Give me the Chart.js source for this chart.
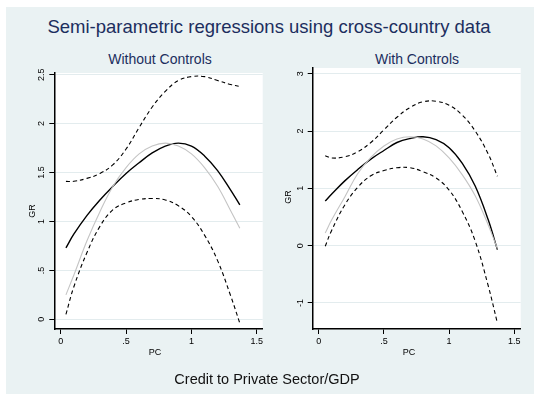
<!DOCTYPE html>
<html>
<head>
<meta charset="utf-8">
<script src="https://cdn.jsdelivr.net/npm/chart.js@4/dist/chart.umd.min.js"></script>
<style>
  html, body { margin: 0; padding: 0; background: #ffffff; }
  body { width: 534px; height: 394px; position: relative; overflow: hidden;
         font-family: "Liberation Sans", Arial, sans-serif; }
  #bg { position: absolute; left: 6px; top: 7px; width: 528px; height: 387px; background: #eaf2f3; }
  .txt { position: absolute; white-space: nowrap; line-height: 1; }
  .center { transform: translate(-50%, -50%); }
  .vert { transform: translate(-50%, -50%) rotate(-90deg); }
  canvas { position: absolute; }
</style>
</head>
<body>
<div id="bg"></div>

<div class="txt center" style="left:269px; top:27px; font-size:18.5px; color:#1c2e5e;">Semi-parametric regressions using cross-country data</div>
<div class="txt center" style="left:160px; top:59px; font-size:14px; color:#1c2e5e;">Without Controls</div>
<div class="txt center" style="left:417px; top:59px; font-size:14px; color:#1c2e5e;">With Controls</div>

<div style="position:absolute; left:6px; top:46px; width:262px; height:318px;"><canvas id="left" width="262" height="318"></canvas></div>
<div style="position:absolute; left:268px; top:46px; width:262px; height:318px;"><canvas id="right" width="262" height="318"></canvas></div>

<div class="txt vert" style="left:31.5px; top:211px; font-size:9px; color:#000;">GR</div>
<div class="txt vert" style="left:287.5px; top:197px; font-size:9px; color:#000;">GR</div>
<div class="txt center" style="left:155px; top:352px; font-size:9px; color:#000;">PC</div>
<div class="txt center" style="left:409px; top:352px; font-size:9px; color:#000;">PC</div>
<div class="txt center" style="left:267px; top:379px; font-size:14.5px; color:#111;">Credit to Private Sector/GDP</div>

<script>
// Without controls: PC grid, semi-parametric fit, quadratic fit, 95% band
const pcLeft    = [0.04, 0.1, 0.2, 0.3, 0.4, 0.5, 0.6, 0.7, 0.8, 0.9, 1.0, 1.1, 1.2, 1.3, 1.37];
const fitLeft   = [0.73, 0.87, 1.06, 1.22, 1.36, 1.49, 1.60, 1.70, 1.77, 1.80, 1.77, 1.67, 1.52, 1.32, 1.17];
const quadLeft  = [0.25, 0.45, 0.80, 1.10, 1.36, 1.55, 1.69, 1.77, 1.80, 1.77, 1.69, 1.55, 1.36, 1.11, 0.93];
const upperLeft = [1.41, 1.41, 1.44, 1.49, 1.58, 1.74, 1.96, 2.17, 2.33, 2.44, 2.48, 2.48, 2.44, 2.40, 2.38];
const lowerLeft = [0.05, 0.33, 0.68, 0.95, 1.12, 1.19, 1.225, 1.235, 1.22, 1.16, 1.05, 0.86, 0.60, 0.24, -0.04];

// With controls
const pcRight    = [0.05, 0.1, 0.2, 0.3, 0.4, 0.5, 0.6, 0.7, 0.8, 0.9, 1.0, 1.1, 1.2, 1.3, 1.37];
const fitRight   = [0.78, 0.90, 1.13, 1.33, 1.51, 1.66, 1.80, 1.87, 1.90, 1.85, 1.71, 1.44, 1.04, 0.45, -0.07];
const quadRight  = [0.22, 0.45, 0.85, 1.26, 1.54, 1.74, 1.86, 1.90, 1.86, 1.74, 1.53, 1.24, 0.87, 0.36, -0.05];
const upperRight = [1.57, 1.53, 1.55, 1.64, 1.80, 2.02, 2.24, 2.41, 2.51, 2.52, 2.45, 2.28, 2.00, 1.60, 1.21];
const lowerRight = [-0.01, 0.27, 0.71, 1.02, 1.22, 1.31, 1.36, 1.36, 1.29, 1.18, 0.97, 0.60, 0.08, -0.70, -1.35];

// Axis ticks
const xTicks      = [0, 0.5, 1, 1.5];
const yTicksLeft  = [0, 0.5, 1, 1.5, 2, 2.5];
const yTicksRight = [-1, 0, 1, 2, 3];

const FONT = "'Liberation Sans', Arial, sans-serif";
const GRID = '#e3ecee';

const fmt = v => String(v).replace(/^0\./, '.').replace(/^-0\./, '-.');
const pts = (xs, ys) => xs.map((x, i) => ({ x: x, y: ys[i] }));

const whitePlot = {
  id: 'whitePlot',
  beforeDraw(chart) {
    const a = chart.chartArea, ctx = chart.ctx;
    ctx.save();
    ctx.fillStyle = '#ffffff';
    ctx.fillRect(a.left, a.top, a.right - a.left, a.bottom - a.top);
    ctx.restore();
  }
};

function series(xs, ys, style) {
  return Object.assign({
    data: pts(xs, ys),
    pointRadius: 0,
    fill: false,
    tension: 0.4,
    borderColor: '#000',
    borderWidth: 1
  }, style);
}

function panel(id, xs, fit, quad, up, lo, yTicks, cfg) {
  new Chart(document.getElementById(id), {
    type: 'line',
    data: {
      datasets: [
        series(xs, up,   { borderDash: [4, 3], borderWidth: 1.1 }),
        series(xs, lo,   { borderDash: [4, 3], borderWidth: 1.1 }),
        series(xs, quad, { borderColor: '#c4c4c4', borderWidth: 1.1 }),
        series(xs, fit,  { borderColor: '#000', borderWidth: 1.4 })
      ]
    },
    options: {
      responsive: false,
      animation: false,
      events: [],
      layout: { padding: { left: 0, right: cfg.padRight, top: cfg.padTop, bottom: 0 } },
      plugins: { legend: { display: false }, tooltip: { enabled: false }, title: { display: false } },
      scales: {
        x: {
          type: 'linear',
          min: cfg.xMin, max: cfg.xMax,
          afterBuildTicks: s => { s.ticks = xTicks.map(v => ({ value: v })); },
          afterFit: s => { s.height = 35; },
          border: { display: true, color: '#000', width: 1.5 },
          grid: { drawOnChartArea: false, drawTicks: true, tickLength: 5, tickColor: '#000', tickWidth: 1 },
          ticks: { padding: 2.3, color: '#000', font: { family: FONT, size: 9 },
                   maxRotation: 0, autoSkip: false, callback: v => fmt(v) }
        },
        y: {
          type: 'linear',
          min: cfg.yMin, max: cfg.yMax,
          afterBuildTicks: s => { s.ticks = yTicks.map(v => ({ value: v })); },
          afterFit: s => { s.width = cfg.yWidth; },
          border: { display: true, color: '#000', width: 1.5 },
          grid: { color: GRID, lineWidth: 1, drawTicks: true, tickLength: 5, tickColor: '#000', tickWidth: 1 },
          ticks: { padding: cfg.yPad, color: '#000', font: { family: FONT, size: 9 },
                   minRotation: 90, maxRotation: 90, crossAlign: 'center',
                   autoSkip: false, callback: v => fmt(v) }
        }
      }
    },
    plugins: [whitePlot]
  });
}

panel('left', pcLeft, fitLeft, quadLeft, upperLeft, lowerLeft, yTicksLeft,
      { xMin: -0.049, xMax: 1.545, yMin: -0.099, yMax: 2.517, yWidth: 48.3, yPad: 1.4, padRight: 5.3, padTop: 27 });
panel('right', pcRight, fitRight, quadRight, upperRight, lowerRight, yTicksRight,
      { xMin: -0.046, xMax: 1.549, yMin: -1.455, yMax: 3.10, yWidth: 44.7, yPad: 2.7, padRight: 9.3, padTop: 22 });
</script>
</body>
</html>
